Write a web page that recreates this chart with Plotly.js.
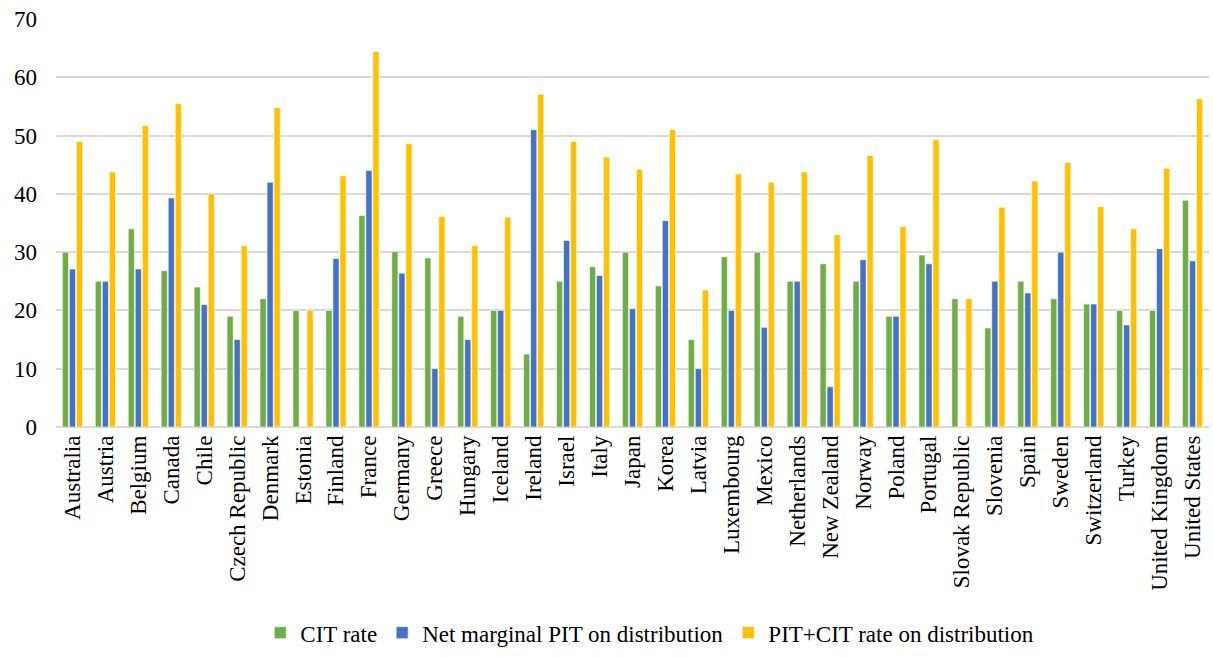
<!DOCTYPE html>
<html>
<head>
<meta charset="utf-8">
<script src="https://cdn.plot.ly/plotly-3.0.1.min.js"></script>
<style>html,body{margin:0;padding:0;background:#fff;}#chart{width:1213px;height:657px;}</style>
</head>
<body>
<div id="chart"></div>
<script>
const countries = ["Australia","Austria","Belgium","Canada","Chile","Czech Republic","Denmark","Estonia","Finland","France","Germany","Greece","Hungary","Iceland","Ireland","Israel","Italy","Japan","Korea","Latvia","Luxembourg","Mexico","Netherlands","New Zealand","Norway","Poland","Portugal","Slovak Republic","Slovenia","Spain","Sweden","Switzerland","Turkey","United Kingdom","United States"];
const citRate = [30,25,34,26.8,24,19,22,20,20,36.3,30.1,29,19,20,12.5,25,27.5,30,24.2,15,29.2,30,25,28,25,19,29.5,22,17,25,22,21.1,20,20,38.9];
const netPIT = [27.1,25,27.1,39.3,21,15,42,0,28.9,44,26.4,10,15,20,51,32,26,20.3,35.4,10,20,17.1,25,6.9,28.7,19,28,0,25,23,30,21.1,17.5,30.6,28.5];
const combined = [49,43.75,51.7,55.5,40,31.1,54.8,20,43.1,64.4,48.6,36.1,31.1,36,57.1,49,46.3,44.2,51,23.5,43.4,42,43.75,33,46.6,34.4,49.3,22,37.7,42.2,45.4,37.8,34,44.4,56.3];
const seriesNames = ["CIT rate","Net marginal PIT on distribution","PIT+CIT rate on distribution"];
const colors = ["#70AD47","#4472C4","#FFC000"];
const yTicks = [0,10,20,30,40,50,60,70];

const data = [citRate, netPIT, combined].map((vals, i) => ({
  type: "bar",
  x: countries,
  y: vals,
  name: seriesNames[i],
  marker: {color: colors[i], line: {color: "#ffffff", width: 0.6}},
  hoverinfo: "x+y+name"
}));

const FAM = "Liberation Serif";

const layout = {
  width: 1213, height: 657,
  margin: {l: 56, r: 4, t: 19, b: 229},
  paper_bgcolor: "#ffffff", plot_bgcolor: "#ffffff",
  barmode: "group",
  bargap: 0.36,
  bargroupgap: 0.12,
  font: {family: FAM, size: 23, color: "#000000"},
  showlegend: true,
  legend: {
    orientation: "h", x: 0.515, xanchor: "center", y: -0.553, yanchor: "bottom",
    font: {family: FAM, size: 23, color: "#000000"},
    itemwidth: 30, traceorder: "normal", borderwidth: 0
  },
  xaxis: {
    type: "category",
    tickangle: -90,
    tickfont: {family: FAM, size: 23, color: "#000000"},
    showgrid: false, showline: false, ticks: "", automargin: false,
    ticklabelstandoff: 3,
    fixedrange: true
  },
  yaxis: {
    range: [0, 70],
    tickvals: yTicks,
    ticktext: yTicks.map(String),
    tickfont: {family: FAM, size: 23, color: "#000000"},
    showgrid: true, gridcolor: "#d9d9d9", gridwidth: 1.5,
    zeroline: true, zerolinecolor: "#d9d9d9", zerolinewidth: 1.5,
    showline: false, ticks: "", automargin: false,
    ticklabelstandoff: 18,
    fixedrange: true
  }
};

Plotly.newPlot("chart", data, layout, {displayModeBar: false});
</script>
</body>
</html>
